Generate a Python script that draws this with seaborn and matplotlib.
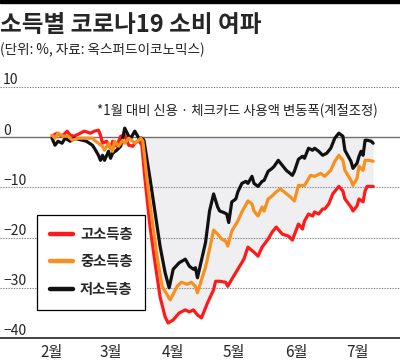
import numpy as np
import matplotlib
matplotlib.use("Agg")
import matplotlib.pyplot as plt
import matplotlib.transforms as mtransforms
from matplotlib.lines import Line2D
import seaborn as sns

sns.set_style("white")
plt.rcParams['font.family'] = ['Noto Sans CJK KR', 'DejaVu Sans']
plt.rcParams['axes.unicode_minus'] = True

# days since Feb 1, values in % vs January (seasonally adjusted)
red_day = [0, 2.5, 5, 7.5, 9, 11, 14, 16, 19, 21, 23, 24, 25, 27, 29, 30, 32, 34, 36, 38,
           40, 41, 43, 44.5, 46, 48.5, 51, 53.5, 56, 57.5, 60, 63, 66, 68, 70, 72, 74, 77, 80, 81,
           83, 86, 87, 89, 92, 95, 97, 100, 102, 104, 107, 109, 111, 114, 117, 119, 122, 124, 125, 127,
           129, 130, 132, 134, 135, 137, 139, 142, 144, 145, 148, 149, 151, 152, 154, 155, 156, 159]
red_val = [0.2, 0.8, 0.2, 1.2, 0.4, 0.2, 0.8, 1.2, 0.8, 1.2, 1.4, 0.4, -1.2, -0.8, -2.2, -0.8, -1.8, 0.2, 0.4, -1.6,
           -1.8, -1.2, -0.6, -1.6, -8.2, -17.7, -25.0, -31.8, -35.8, -37.0, -36.4, -35.0, -34.4, -34.8, -34.4, -35.4, -36.0, -33.0, -30.4, -28.7,
           -28.7, -28.9, -29.7, -28.3, -26.3, -24.3, -21.9, -22.9, -23.7, -21.9, -20.3, -18.9, -17.9, -19.3, -19.7, -20.5, -17.3, -18.3, -16.7, -15.3,
           -15.7, -14.9, -15.3, -14.3, -14.3, -13.3, -11.3, -9.8, -10.7, -12.3, -13.9, -14.7, -13.7, -12.3, -12.9, -10.7, -9.8, -9.8]

org_day = [0, 1.5, 3, 5.5, 8, 10, 13, 16, 20, 21, 23, 25, 26, 28, 30, 31, 33, 35, 36, 38,
           40, 41, 44, 45, 47, 49.5, 52, 54.5, 58.5, 62, 64, 67, 69, 71, 72, 76, 78, 80, 82, 84,
           86, 87, 89, 92, 94, 97, 99, 100, 102, 104, 105, 107, 109, 111, 113, 115, 118, 120, 122, 125,
           128, 130, 133, 135, 138, 140, 142, 144, 145, 148, 149, 151, 152, 154, 155, 157, 159]
org_val = [0.4, -0.2, 0.8, 0.2, 0.2, -0.6, -0.2, -0.2, -0.2, -0.6, -1.2, -1.8, -2.6, -1.2, -2.8, -0.8, -1.8, -0.6, -1.2, -0.2,
           -0.8, -1.2, -0.2, -0.8, -8.2, -16.3, -23.7, -29.7, -32.4, -29.7, -28.9, -29.3, -28.9, -29.7, -31.0, -25.9, -22.3, -18.5, -19.3, -20.3,
           -20.7, -21.7, -18.7, -16.7, -14.9, -12.7, -13.3, -14.7, -15.7, -13.9, -14.7, -12.3, -11.7, -10.9, -10.3, -10.9, -11.9, -12.7, -9.6, -9.6,
           -7.6, -7.8, -7.2, -7.8, -6.6, -4.8, -3.6, -4.6, -6.6, -8.6, -9.6, -8.2, -5.8, -6.6, -4.6, -4.6, -4.8]

blk_day = [0, 1.5, 3, 5, 6.5, 9, 11, 15, 17, 20, 21, 23, 24, 25, 26, 28, 29, 30, 32, 34,
           35, 36, 38, 39, 41, 43, 44.5, 45.5, 48.5, 51, 53.5, 56, 58, 60, 63, 66, 68, 70, 71, 72,
           76, 78, 80, 82, 83, 85, 86.5, 87.5, 89, 91, 92, 94, 96, 97, 99, 100, 102, 104, 105, 107,
           109, 110, 112, 114, 116, 119, 120, 122, 124, 125, 127, 129, 130, 132, 134, 136, 138, 140, 142, 144,
           145, 148, 149, 151, 152, 153, 154, 155, 156, 158, 159]
blk_val = [-0.2, -1.6, -0.8, -1.2, -0.2, -0.8, -0.2, -0.6, -0.8, -1.6, -2.2, -3.6, -4.6, -3.6, -4.6, -2.8, -4.2, -3.2, -2.6, -1.8,
           -0.2, 1.8, 0.2, -0.2, 1.2, -0.2, -0.2, -0.6, -8.2, -14.9, -21.7, -27.0, -30.0, -26.3, -25.0, -24.3, -25.7, -26.3, -26.0, -28.0,
           -21.0, -14.7, -11.3, -13.9, -14.7, -15.0, -15.3, -17.0, -12.9, -12.3, -10.9, -9.2, -8.8, -9.2, -7.8, -9.2, -9.8, -8.8, -8.6, -6.8,
           -6.2, -5.8, -4.6, -5.6, -6.6, -7.6, -6.8, -4.4, -3.8, -4.2, -2.2, -2.6, -2.2, -2.8, -3.6, -3.2, -2.2, -0.2, 0.8, 0.2,
           -2.6, -4.8, -6.2, -5.2, -3.8, -2.8, -3.6, -0.6, -0.6, -0.8, -1.2]

series_names = ['고소득층', '중소득층', '저소득층']
series_colors = ['#ff1a1a', '#f7901e', '#111111']
month_days = [0, 29, 60, 90, 121, 151]
month_labels = ['2월', '3월', '4월', '5월', '6월', '7월']
y_ticks = [10, 0, -10, -20, -30, -40]
shade_from = 44.5

fig = plt.figure(figsize=(4.0, 3.62), dpi=100)
ax = fig.add_axes([0, 24 / 362, 1, 251 / 362])
ax.set_xlim(-25.74, 172.28)
ax.set_ylim(-40, 10)

# shaded area between zero and the high-income line after the drop
rd = np.array(red_day)
rv = np.array(red_val)
m = rd >= shade_from
ax.fill_between(rd[m], rv[m], 0, color='#efeff1', linewidth=0, zorder=1)

ylab_tr = mtransforms.blended_transform_factory(ax.transAxes, ax.transData)
for v in y_ticks:
    if v == 0:
        ax.axhline(v, color='#707070', linewidth=1.0, zorder=2)
    elif v != -40:
        ax.axhline(v, color='#808080', linewidth=0.8, linestyle=(0, (1.2, 1.2)), zorder=2)
    lbl = str(v) if v >= 0 else '\u2212' + str(-v)
    ax.text(0.008, v + 0.5, lbl, transform=ylab_tr, fontsize=10, fontweight='medium',
            va='baseline', ha='left', color='#222222')

lw = 2.3
sns.lineplot(x=red_day, y=red_val, color=series_colors[0], linewidth=lw, ax=ax, zorder=4)
sns.lineplot(x=blk_day, y=blk_val, color=series_colors[2], linewidth=lw, ax=ax, zorder=5)
sns.lineplot(x=org_day, y=org_val, color=series_colors[1], linewidth=lw, ax=ax, zorder=6)

handles = [Line2D([], [], color=c, linewidth=3.2) for c in series_colors]
leg = ax.legend(handles, series_names, loc='lower left', bbox_to_anchor=(0.0925, 0.112),
                prop={'size': 10.3, 'weight': 'bold'}, handlelength=1.6, handletextpad=0.5,
                labelspacing=0.95, borderpad=0.9, borderaxespad=0, fancybox=False,
                framealpha=1, edgecolor='black')
leg.get_frame().set_linewidth(0.9)
leg.set_zorder(10)

sns.despine(ax=ax, left=True, top=True, right=True)
ax.spines['bottom'].set_color('#222222')
ax.spines['bottom'].set_linewidth(1.2)
ax.set_yticks([])
ax.set_xticks(month_days)
ax.set_xticklabels(month_labels, fontsize=11, fontweight='medium')
ax.tick_params(axis='x', direction='in', length=8, width=1, color='#888888', pad=4)
ax.set_xlabel('')
ax.set_ylabel('')

ax.text(0.945, 0.935, '*1월 대비 신용 · 체크카드 사용액 변동폭(계절조정)', transform=ax.transAxes,
        fontsize=9.6, fontweight='medium', ha='right', va='top', color='#222222')

fig.add_artist(plt.Rectangle((0, 1 - 3 / 362), 1, 3 / 362, transform=fig.transFigure, color='black'))
fig.text(0.0, 1 - 25 / 362, '소득별 코로나19 소비 여파', fontsize=17, fontweight='black', va='center', ha='left')
fig.text(0.0, 1 - 50 / 362, '(단위: %, 자료: 옥스퍼드이코노믹스)', fontsize=9.8, fontweight='medium',
         va='center', ha='left', color='#222222')

fig.savefig('out.png', dpi=100)
